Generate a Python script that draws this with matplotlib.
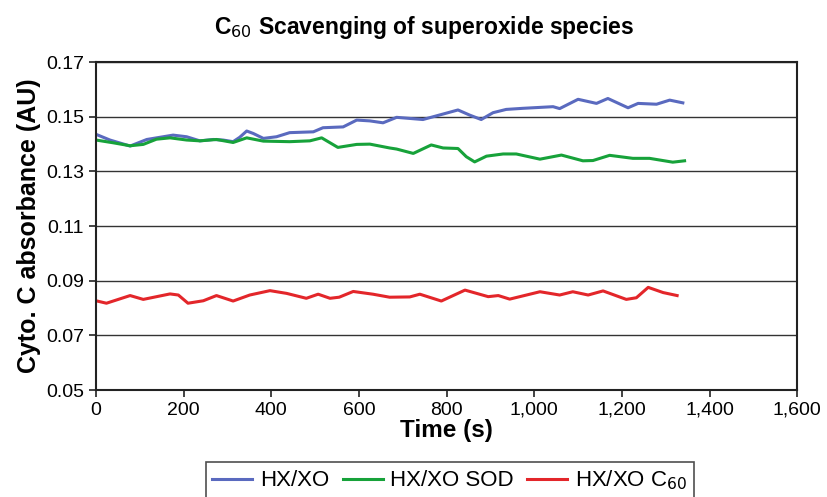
import numpy as np
import matplotlib.pyplot as plt

plt.rcParams['font.family'] = ['Liberation Sans', 'DejaVu Sans']

# HX/XO (blue)
t_hx = [0, 32, 78, 116, 176, 207, 237, 268, 290, 313, 328, 344, 359, 382, 412,
        442, 496, 518, 564, 595, 625, 655, 686, 746, 769, 826, 853, 879, 906,
        936, 974, 1043, 1058, 1100, 1142, 1168, 1214, 1237, 1279, 1309, 1339]
v_hx = [0.1436, 0.1415, 0.1393, 0.1417, 0.1433, 0.1427, 0.1412, 0.1417, 0.1415,
        0.1409, 0.1425, 0.1448, 0.1439, 0.1421, 0.1427, 0.1442, 0.1445, 0.1460,
        0.1463, 0.1488, 0.1485, 0.1478, 0.1498, 0.1490, 0.1500, 0.1525, 0.1506,
        0.1490, 0.1515, 0.1527, 0.1531, 0.1537, 0.1530, 0.1564, 0.1549, 0.1567,
        0.1533, 0.1549, 0.1546, 0.1561, 0.1551]

# HX/XO SOD (green)
t_sod = [0, 39, 78, 108, 138, 169, 207, 237, 275, 313, 344, 382, 442, 488, 515,
         552, 595, 625, 670, 686, 724, 765, 792, 826, 845, 864, 891, 929, 959,
         1013, 1062, 1111, 1134, 1172, 1225, 1263, 1316, 1343]
v_sod = [0.1415, 0.1405, 0.1394, 0.1399, 0.1418, 0.1423, 0.1415, 0.1412, 0.1417,
         0.1406, 0.1423, 0.1411, 0.1409, 0.1412, 0.1423, 0.1388, 0.1399, 0.1400,
         0.1386, 0.1382, 0.1366, 0.1397, 0.1386, 0.1384, 0.1354, 0.1335, 0.1356,
         0.1364, 0.1364, 0.1345, 0.1360, 0.1339, 0.1340, 0.1359, 0.1348, 0.1348,
         0.1334, 0.1339]

# HX/XO C60 (red)
t_c60 = [0, 24, 78, 108, 169, 188, 210, 245, 275, 313, 351, 397, 435, 480, 507,
         534, 555, 587, 632, 670, 716, 739, 788, 842, 895, 918, 944, 1013, 1058,
         1088, 1123, 1157, 1210, 1233, 1260, 1294, 1326]
v_c60 = [0.0827, 0.0818, 0.0846, 0.0832, 0.0852, 0.0848, 0.0818, 0.0827, 0.0846,
         0.0826, 0.0848, 0.0864, 0.0854, 0.0836, 0.0851, 0.0836, 0.0840, 0.0861,
         0.0851, 0.0840, 0.0841, 0.0851, 0.0826, 0.0866, 0.0842, 0.0846, 0.0833,
         0.0860, 0.0848, 0.0860, 0.0848, 0.0863, 0.0832, 0.0838, 0.0876, 0.0857,
         0.0846]

x_ticks = np.arange(0, 1601, 200)
y_ticks = [0.05, 0.07, 0.09, 0.11, 0.13, 0.15, 0.17]

fig = plt.figure(figsize=(8.27, 4.97), dpi=100)
ax = fig.add_axes([0.116, 0.215, 0.848, 0.66])

ax.plot(t_hx, v_hx, color='#5A6ABF', lw=2.2, label='HX/XO')
ax.plot(t_sod, v_sod, color='#17A23A', lw=2.2, label='HX/XO SOD')
ax.plot(t_c60, v_c60, color='#E3262A', lw=2.2, label='HX/XO C$_{60}$')

ax.set_xlim(0, 1600)
ax.set_ylim(0.05, 0.17)
ax.set_xticks(x_ticks)
ax.set_xticklabels([f'{v:,}' for v in x_ticks])
ax.set_yticks(y_ticks)
ax.set_yticklabels([f'{v:.2f}' for v in y_ticks])
ax.tick_params(labelsize=14, length=5, width=1.2, color='#222222')
ax.grid(axis='y', color='#333333', lw=1)
for s in ax.spines.values():
    s.set_linewidth(1.5)
    s.set_color('#222222')

ax.set_xlabel('Time (s)', fontsize=17.5, fontweight='bold', labelpad=0)
ax.set_ylabel('Cyto. C absorbance (AU)', fontsize=18, fontweight='bold', labelpad=4)
fig.text(0.513, 0.944, 'C$_{60}$ Scavenging of superoxide species', ha='center',
         va='center', fontsize=16.5, fontweight='bold')

leg = fig.legend(loc='upper center', bbox_to_anchor=(0.544, 0.071), ncol=3,
                 fontsize=16, frameon=True, fancybox=False, edgecolor='#222222',
                 handlelength=1.8, columnspacing=0.6, handletextpad=0.35,
                 borderpad=0.3, borderaxespad=0)
leg.get_frame().set_linewidth(1.2)

fig.savefig('out.png', dpi=100)
